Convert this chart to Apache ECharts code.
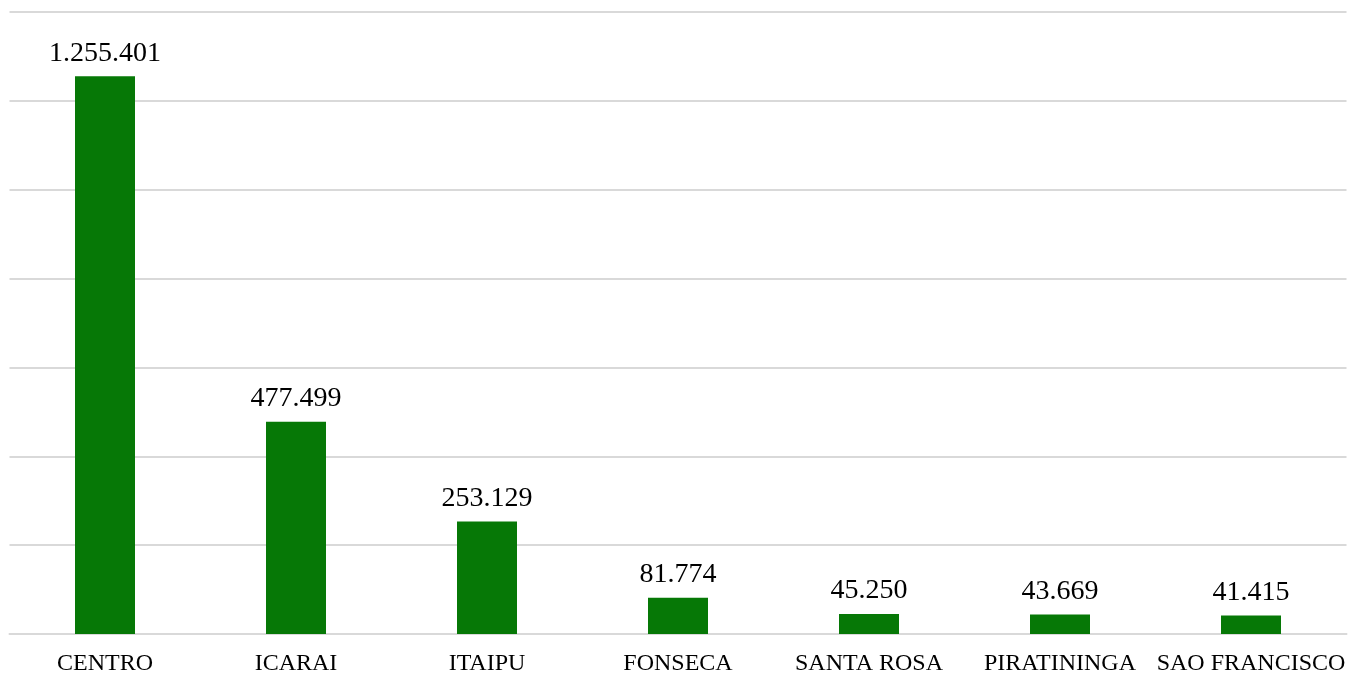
<!DOCTYPE html>
<html>
<head>
<meta charset="utf-8">
<script src="https://cdn.jsdelivr.net/npm/echarts@6/dist/echarts.min.js"></script>
<style>
html,body{margin:0;padding:0;background:#fff;}
#chart{width:1350px;height:674px;}
</style>
</head>
<body>
<div id="chart"></div>
<script>
var categories = ['CENTRO','ICARAI','ITAIPU','FONSECA','SANTA ROSA','PIRATININGA','SAO FRANCISCO'];
var values = [1255401, 477499, 253129, 81774, 45250, 43669, 41415];

function fmt(v){
  return String(v).replace(/\B(?=(\d{3})+(?!\d))/g, '.');
}

var chart = echarts.init(document.getElementById('chart'));
chart.setOption({
  animation: false,
  grid: {left: 9.5, right: 3.5, top: 12, bottom: 40, containLabel: false, outerBoundsMode: 'none'},
  xAxis: {
    type: 'category',
    data: categories,
    axisLine: {show: true, lineStyle: {color: '#d9d9d9', width: 2}},
    axisTick: {show: false},
    axisLabel: {color: '#000', fontFamily: 'Liberation Serif', fontSize: 24, margin: 18, interval: 0}
  },
  yAxis: {
    type: 'value',
    min: 0,
    max: 1400000,
    interval: 200000,
    axisLabel: {show: false},
    axisLine: {show: false},
    axisTick: {show: false},
    splitLine: {lineStyle: {color: '#d9d9d9', width: 2}}
  },
  series: [{
    type: 'bar',
    data: values,
    barWidth: 60,
    itemStyle: {color: '#067806'},
    label: {
      show: true,
      position: 'top',
      distance: 9,
      color: '#000',
      fontFamily: 'Liberation Serif',
      fontSize: 28,
      formatter: function(p){ return fmt(p.value); }
    }
  }]
});
</script>
</body>
</html>
